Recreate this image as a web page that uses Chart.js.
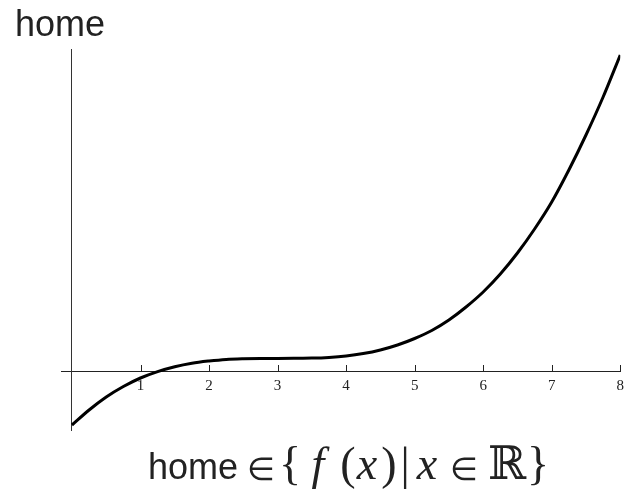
<!DOCTYPE html>
<html>
<head>
<meta charset="utf-8">
<script src="https://cdn.jsdelivr.net/npm/chart.js@4/dist/chart.umd.min.js"></script>
<style>
    body { margin: 0; background: #fff; }
    #wrap { position: relative; width: 630px; height: 494px; }
    #title { position: absolute; left: 15px; top: 6px; font: 36px "Liberation Sans", Arial, sans-serif; line-height: 36px; color: #222; }
    #caption span { position: absolute; color: #222; white-space: nowrap; line-height: 48px; }
    #caption .sans { left: 148px; top: 443px; font: 36px "Liberation Sans", Arial, sans-serif; line-height: 48px; }
    #caption .m { top: 440px; transform: translateX(-50%); font-family: "Liberation Serif", "DejaVu Serif", serif; font-size: 46px; }
    #caption .rel { top: 445px; font-family: "DejaVu Sans", sans-serif; font-size: 32px; }
    #caption .i { font-style: italic; }
</style>
</head>
<body>
<div id="wrap">
    <canvas id="chartKurva" width="630" height="494"></canvas>
    <div id="title">home</div>
    <div id="caption">
        <span class="sans">home</span>
        <span class="m rel" style="left:261px">∈</span>
        <span class="m" style="left:290px">{</span>
        <span class="m i" style="left:318px">f</span>
        <span class="m" style="left:348px">(</span>
        <span class="m i" style="left:367px">x</span>
        <span class="m" style="left:389px">)</span>
        <span class="m" style="left:405px">|</span>
        <span class="m i" style="left:427px">x</span>
        <span class="m rel" style="left:464px">∈</span>
        <span class="m" style="left:507px">ℝ</span>
        <span class="m" style="left:538px">}</span>
    </div>
</div>
<script>
// data kurva
const nilaiX = [0, 0.25, 0.5, 0.75, 1, 1.25, 1.5, 1.75, 2, 2.25, 2.5, 2.75, 3, 3.25, 3.5, 3.75, 4,
    4.25, 4.5, 4.75, 5, 5.25, 5.5, 5.75, 6, 6.25, 6.5, 6.75, 7, 7.25, 7.5, 7.75, 8];
const nilaiY = [-54, -39, -26, -15.5, -7, -0.6, 4.3, 7.8, 10, 11.6, 12.3, 12.6, 12.6, 12.7, 12.9, 13.6, 15,
    17.4, 21, 26, 32.5, 40.5, 51, 64, 79, 97, 118, 142, 169, 201, 236, 274, 316];
const tickX = [1, 2, 3, 4, 5, 6, 7, 8];

// garis tick kecil di atas sumbu x
const tickMarks = {
    id: 'tickMarks',
    afterDraw(chart) {
        const ctx = chart.ctx;
        const sx = chart.scales.x;
        const y0 = chart.scales.y.getPixelForValue(0);
        ctx.save();
        ctx.strokeStyle = '#222';
        ctx.lineWidth = 1;
        ctx.beginPath();
        tickX.forEach(function (v) {
            const px = Math.round(sx.getPixelForValue(v)) + 0.5;
            ctx.moveTo(px, y0);
            ctx.lineTo(px, y0 - 6);
        });
        ctx.stroke();
        ctx.restore();
    }
};

window.onload = function () {
    const ctxKurva = document.getElementById('chartKurva');
    new Chart(ctxKurva.getContext('2d'), {
        type: 'line',
        data: {
            datasets: [{
                data: nilaiX.map(function (x, i) { return { x: x, y: nilaiY[i] }; }),
                borderColor: '#000',
                borderWidth: 3,
                pointRadius: 0,
                cubicInterpolationMode: 'monotone',
                fill: false
            }]
        },
        options: {
            responsive: false,
            animation: false,
            layout: { padding: { left: 61, right: 5, top: 49, bottom: 64 } },
            plugins: { legend: { display: false }, tooltip: { enabled: false } },
            scales: {
                x: {
                    type: 'linear',
                    position: { y: 0 },
                    min: -0.16,
                    max: 8,
                    afterBuildTicks: function (scale) {
                        scale.ticks = tickX.map(function (v) { return { value: v }; });
                    },
                    grid: { display: false, drawTicks: false },
                    border: { display: true, color: '#222', width: 1 },
                    ticks: {
                        padding: 6,
                        color: '#222',
                        maxRotation: 0,
                        font: { family: 'Liberation Serif', size: 15 }
                    }
                },
                y: {
                    type: 'linear',
                    position: { x: 0 },
                    min: -59,
                    max: 322,
                    grid: { display: false, drawTicks: false },
                    border: { display: true, color: '#333', width: 1 },
                    ticks: { display: false }
                }
            }
        },
        plugins: [tickMarks]
    });
};
</script>
</body>
</html>
